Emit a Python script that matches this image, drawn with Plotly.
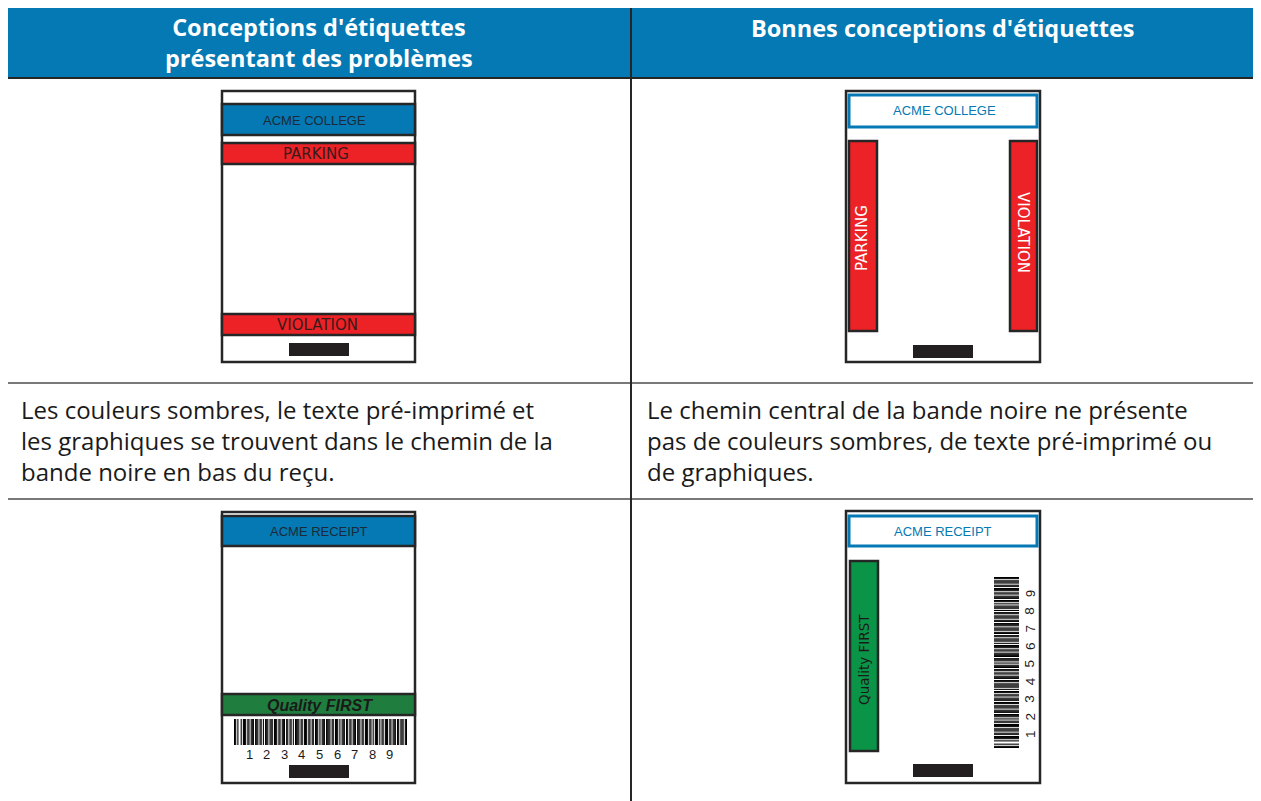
import plotly.graph_objects as go

# ---------------- data ----------------
left_header = ["Conceptions d'étiquettes", "présentant des problèmes"]
right_header = ["Bonnes conceptions d'étiquettes"]
left_caption = ["Les couleurs sombres, le texte pré-imprimé et",
                "les graphiques se trouvent dans le chemin de la",
                "bande noire en bas du reçu."]
right_caption = ["Le chemin central de la bande noire ne présente",
                 "pas de couleurs sombres, de texte pré-imprimé ou",
                 "de graphiques."]
label_texts = ["ACME COLLEGE", "PARKING", "VIOLATION", "ACME RECEIPT", "Quality FIRST"]
barcode_digits = ["1", "2", "3", "4", "5", "6", "7", "8", "9"]
# barcode modules (1 = black, 0 = white)
barcode_modules = ("1101001011101101110111011010111011101110110111011011010111101101110110110111010"
                   "11101111011011101011101101101110111011011101101011101011011101101110110111011")

# ---------------- style ----------------
W, H = 1261, 801
OFF = 8  # page body margin
BLUE = "#0479b3"
RED = "#ec2227"
DGREEN = "#1f7e3e"
GREEN = "#0a9447"
DARK = "#262626"
GRID = "#4d4d4d"
TXT = "#1a1a1a"

shapes = []
ann = []


def rect(x0, y0, x1, y1, fill="white", line=DARK, lw=2.5):
    shapes.append(dict(type="rect", xref="x", yref="y", x0=x0, y0=y0, x1=x1, y1=y1,
                       fillcolor=fill, line=dict(color=line, width=lw), layer="above"))


def line(x0, y0, x1, y1, color=DARK, lw=2):
    shapes.append(dict(type="line", xref="x", yref="y", x0=x0, y0=y0, x1=x1, y1=y1,
                       line=dict(color=color, width=lw), layer="above"))


def text(x, y, s, size=12, color=TXT, family="Liberation Sans", angle=0, xa="center", ya="middle",
         align="center"):
    ann.append(dict(x=x, y=y, xref="x", yref="y", text=s, showarrow=False, textangle=angle,
                    xanchor=xa, yanchor=ya, align=align, borderpad=0,
                    font=dict(size=size, color=color, family=family)))


# ---------------- table ----------------
rect(6, 5, 1255, 78, fill=BLUE, line=DARK, lw=0)
line(6, 5, 1255, 5, DARK, 2)
line(6, 78, 1255, 78, DARK, 2)
line(6, 383, 1255, 383, GRID, 1.5)
line(6, 499, 1255, 499, GRID, 1.5)
for x in (6, 631, 1255):
    line(x, 5, x, 801, DARK, 2)

text(319, 42, "<b>" + "<br>".join(left_header) + "</b>", size=23.5, color="white", family="Open Sans")
text(943, 28, "<b>" + "<br>".join(right_header) + "</b>", size=23.5, color="white", family="Open Sans")

text(20, 440, "<br>".join(left_caption), size=24, color=TXT, family="Open Sans", xa="left", align="left")
text(646, 440, "<br>".join(right_caption), size=24, color=TXT, family="Open Sans", xa="left", align="left")

# ---------------- label 1 (bad) ----------------
rect(222, 91, 415, 362)
rect(222, 104, 415, 135, fill=BLUE)
text(314.5, 120, label_texts[0], size=13, color="#1b2a38")
rect(222, 143, 415, 164, fill=RED)
text(316, 154, label_texts[1], size=15, color="#3a1a1a", family="DejaVu Sans")
rect(222, 314, 415, 335, fill=RED)
text(317.5, 325, label_texts[2], size=15, color="#3a1a1a", family="DejaVu Sans")
rect(289, 343, 349, 356, fill="#231f20", line="#231f20", lw=0)

# ---------------- label 2 (good) ----------------
rect(846, 91, 1040, 362)
rect(849, 95, 1037, 127, fill="white", line=BLUE, lw=3)
text(944, 110, label_texts[0], size=13, color=BLUE)
rect(849, 141, 877, 331, fill=RED)
text(862, 238, label_texts[1], size=15, color="white", angle=-90, family="DejaVu Sans")
rect(1010, 141, 1037, 331, fill=RED)
text(1023, 232, label_texts[2], size=15, color="white", angle=90, family="DejaVu Sans")
rect(913, 345, 973, 358, fill="#231f20", line="#231f20", lw=0)

# ---------------- label 3 (bad receipt) ----------------
rect(222, 512, 415, 783)
rect(222, 516, 415, 546, fill=BLUE)
text(319, 531, label_texts[3], size=13, color="#1b2a38")
rect(222, 694, 415, 715, fill=DGREEN)
text(320, 705, "<b><i>" + label_texts[4] + "</i></b>", size=16, color="#1a1a1a")
n = len(barcode_modules)
bx0, bx1 = 234, 407
mw = (bx1 - bx0) / n
for i, m in enumerate(barcode_modules):
    if m == "1":
        shapes.append(dict(type="rect", xref="x", yref="y", x0=bx0 + i * mw, x1=bx0 + (i + 1) * mw,
                           y0=719, y1=745, fillcolor="black", line=dict(width=0), layer="above"))
for i, d in enumerate(barcode_digits):
    text(249 + i * 17.6, 754, d, size=13, color=TXT)
rect(289, 765, 349, 778, fill="#231f20", line="#231f20", lw=0)

# ---------------- label 4 (good receipt) ----------------
rect(846, 511, 1040, 783)
rect(849, 516, 1037, 546, fill="white", line=BLUE, lw=3)
text(943, 531, label_texts[3], size=13, color=BLUE)
rect(850, 561, 878, 751, fill=GREEN)
text(864, 660, label_texts[4], size=13.5, color="#1a1a1a", angle=-90, family="DejaVu Sans")
by0, by1 = 577, 748
mh = (by1 - by0) / n
for i, m in enumerate(barcode_modules):
    if m == "1":
        shapes.append(dict(type="rect", xref="x", yref="y", y0=by1 - (i + 1) * mh, y1=by1 - i * mh,
                           x0=994, x1=1019, fillcolor="black", line=dict(width=0), layer="above"))
for i, d in enumerate(barcode_digits):
    text(1030, 734 - i * 17.6, d, size=13.5, color=TXT, angle=-90)
rect(913, 764, 973, 777, fill="#231f20", line="#231f20", lw=0)

fig = go.Figure()
fig.update_layout(
    width=W, height=H, margin=dict(l=0, r=0, t=0, b=0),
    paper_bgcolor="white", plot_bgcolor="white",
    xaxis=dict(range=[OFF, W + OFF], visible=False, fixedrange=True),
    yaxis=dict(range=[H + OFF, OFF], visible=False, fixedrange=True),
    shapes=shapes, annotations=ann, showlegend=False,
)
fig.write_html("out.html", config={"displayModeBar": False})
